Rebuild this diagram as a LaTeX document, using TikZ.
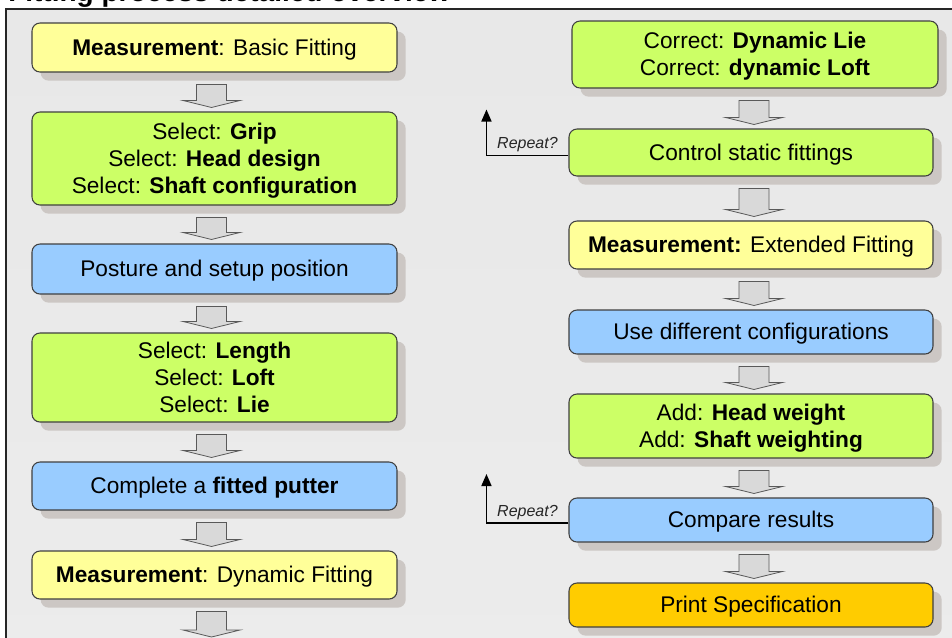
\documentclass[tikz,border=0pt]{standalone}
\usepackage{fontspec}
\setmainfont{Liberation Sans}
\usetikzlibrary{calc,shadows,arrows.meta}
\definecolor{byellow}{HTML}{FFFF99}
\definecolor{bgreen}{HTML}{CCFF66}
\definecolor{bblue}{HTML}{99CCFF}
\definecolor{borange}{HTML}{FFCC00}
\definecolor{bline}{HTML}{404040}
\definecolor{shadowc}{RGB}{204,199,196}
\definecolor{arrfill}{HTML}{D9D9D9}
\definecolor{arrline}{HTML}{595959}
\definecolor{bgtop}{HTML}{E8E8E8}
\definecolor{bgmid}{HTML}{F9F9F9}
\definecolor{bgbot}{HTML}{ECECEC}
\tikzset{
  box/.style={draw=bline, line width=0.8pt, rounded corners=6pt, align=center,
    inner sep=0pt, font=\fontsize{17}{20.25}\selectfont,
    drop shadow={shadow xshift=6.5pt, shadow yshift=-6.5pt, fill=shadowc, opacity=1}},
  one/.style={text height=14pt, text depth=2.2pt},
  two/.style={text height=34.25pt, text depth=2.2pt},
  three/.style={text height=54.5pt, text depth=2.2pt},
  blockarrow/.style={draw=arrline, fill=arrfill, line width=0.6pt, line join=miter},
  repeatarr/.style={draw=black, line width=1.2pt, -{Triangle[width=7.5pt,length=9pt]}},
  replabel/.style={font=\fontsize{12}{14}\itshape, text=black!85, inner sep=2pt}
}
\newcommand\blockarr[3]{%
  \draw[blockarrow] let \p1=(#1), \p2=(#2) in
    ({\x1+(#3-15)*0.75pt},{\y1-9pt}) -- ({\x1+(#3+15)*0.75pt},{\y1-9pt}) --
    ({\x1+(#3+15)*0.75pt},{\y2+8.25pt}) -- ({\x1+(#3+28.5)*0.75pt},{\y2+8.25pt}) --
    ({\x1+(#3)*0.75pt},{\y2+3pt}) -- ({\x1+(#3-28.5)*0.75pt},{\y2+8.25pt}) --
    ({\x1+(#3-15)*0.75pt},{\y2+8.25pt}) -- cycle;}
\begin{document}
\begin{tikzpicture}[x=0.75pt,y=-0.75pt]
\useasboundingbox (0,0) rectangle (952,637);
\clip (0,0) rectangle (952,637);
\fill[white] (0,0) rectangle (952,637);
% title (cut off at the top, as in the reference)
\node[anchor=base west, font=\fontsize{21}{25}\selectfont\bfseries, inner sep=0pt] (title) at (8,1.2) {Fitting process detailed overview};
% panel
\shade[top color=bgtop, middle color=bgmid, bottom color=bgbot] (6,9) rectangle (1000,700);
\draw[line width=1.5pt, black!85] (6,700) -- (6,9) -- (1000,9);
% left column
\node[box, one, fill=byellow, minimum width=273.75pt, minimum height=36.75pt] (L1) at (214.5,47.5) {\textbf{Measurement}: Basic Fitting};
\node[box, three, fill=bgreen, minimum width=273.75pt, minimum height=69.75pt] (L2) at (214.5,158.5) {Select: \textbf{Grip}\\Select: \textbf{Head design}\\Select: \textbf{Shaft configuration}};
\node[box, one, fill=bblue, minimum width=273.75pt, minimum height=37.5pt] (L3) at (214.5,269) {Posture and setup position};
\node[box, three, fill=bgreen, minimum width=273.75pt, minimum height=66.75pt] (L4) at (214.5,377.5) {Select: \textbf{Length}\\Select: \textbf{Loft}\\Select: \textbf{Lie}};
\node[box, one, fill=bblue, minimum width=273.75pt, minimum height=36pt] (L5) at (214.5,486) {Complete a \textbf{fitted putter}};
\node[box, one, fill=byellow, minimum width=273.75pt, minimum height=36pt] (L6) at (214.5,575) {\textbf{Measurement}: Dynamic Fitting};
\coordinate (Lend) at (214.5,641);
% right column
\node[box, two, fill=bgreen, minimum width=274.5pt, minimum height=50.25pt] (R1) at (755,54.5) {Correct: \textbf{Dynamic Lie}\\Correct: \textbf{dynamic Loft}};
\node[box, one, fill=bgreen, minimum width=273pt, minimum height=35.25pt] (R2) at (751,152.5) {Control static fittings};
\node[box, one, fill=byellow, minimum width=273pt, minimum height=36pt] (R3) at (751,245) {\textbf{Measurement:} Extended Fitting};
\node[box, one, fill=bblue, minimum width=273pt, minimum height=33pt] (R4) at (751,332) {Use different configurations};
\node[box, two, fill=bgreen, minimum width=273pt, minimum height=48pt] (R5) at (751,426) {Add: \textbf{Head weight}\\Add: \textbf{Shaft weighting}};
\node[box, one, fill=bblue, minimum width=273pt, minimum height=33pt] (R6) at (751,520) {Compare results};
\node[box, one, fill=borange, minimum width=273pt, minimum height=33pt] (R7) at (751,605) {Print Specification};
% block arrows
\blockarr{L1.south}{L2.north}{-3}
\blockarr{L2.south}{L3.north}{-3}
\blockarr{L3.south}{L4.north}{-3}
\blockarr{L4.south}{L5.north}{-3}
\blockarr{L5.south}{L6.north}{-3}
\blockarr{L6.south}{Lend}{-3}
\blockarr{R1.south}{R2.north}{-1}
\blockarr{R2.south}{R3.north}{3}
\blockarr{R3.south}{R4.north}{3}
\blockarr{R4.south}{R5.north}{3}
\blockarr{R5.south}{R6.north}{3}
\blockarr{R6.south}{R7.north}{3}
% repeat loops
\draw[repeatarr] ($(R2.west)+(0,3)$) -- ++(-82,0) node[midway, above, replabel] {Repeat?} -- ++(0,-46);
\draw[repeatarr] ($(R6.west)+(0,3)$) -- ++(-82,0) node[midway, above, replabel] {Repeat?} -- ++(0,-49);
\end{tikzpicture}
\end{document}
